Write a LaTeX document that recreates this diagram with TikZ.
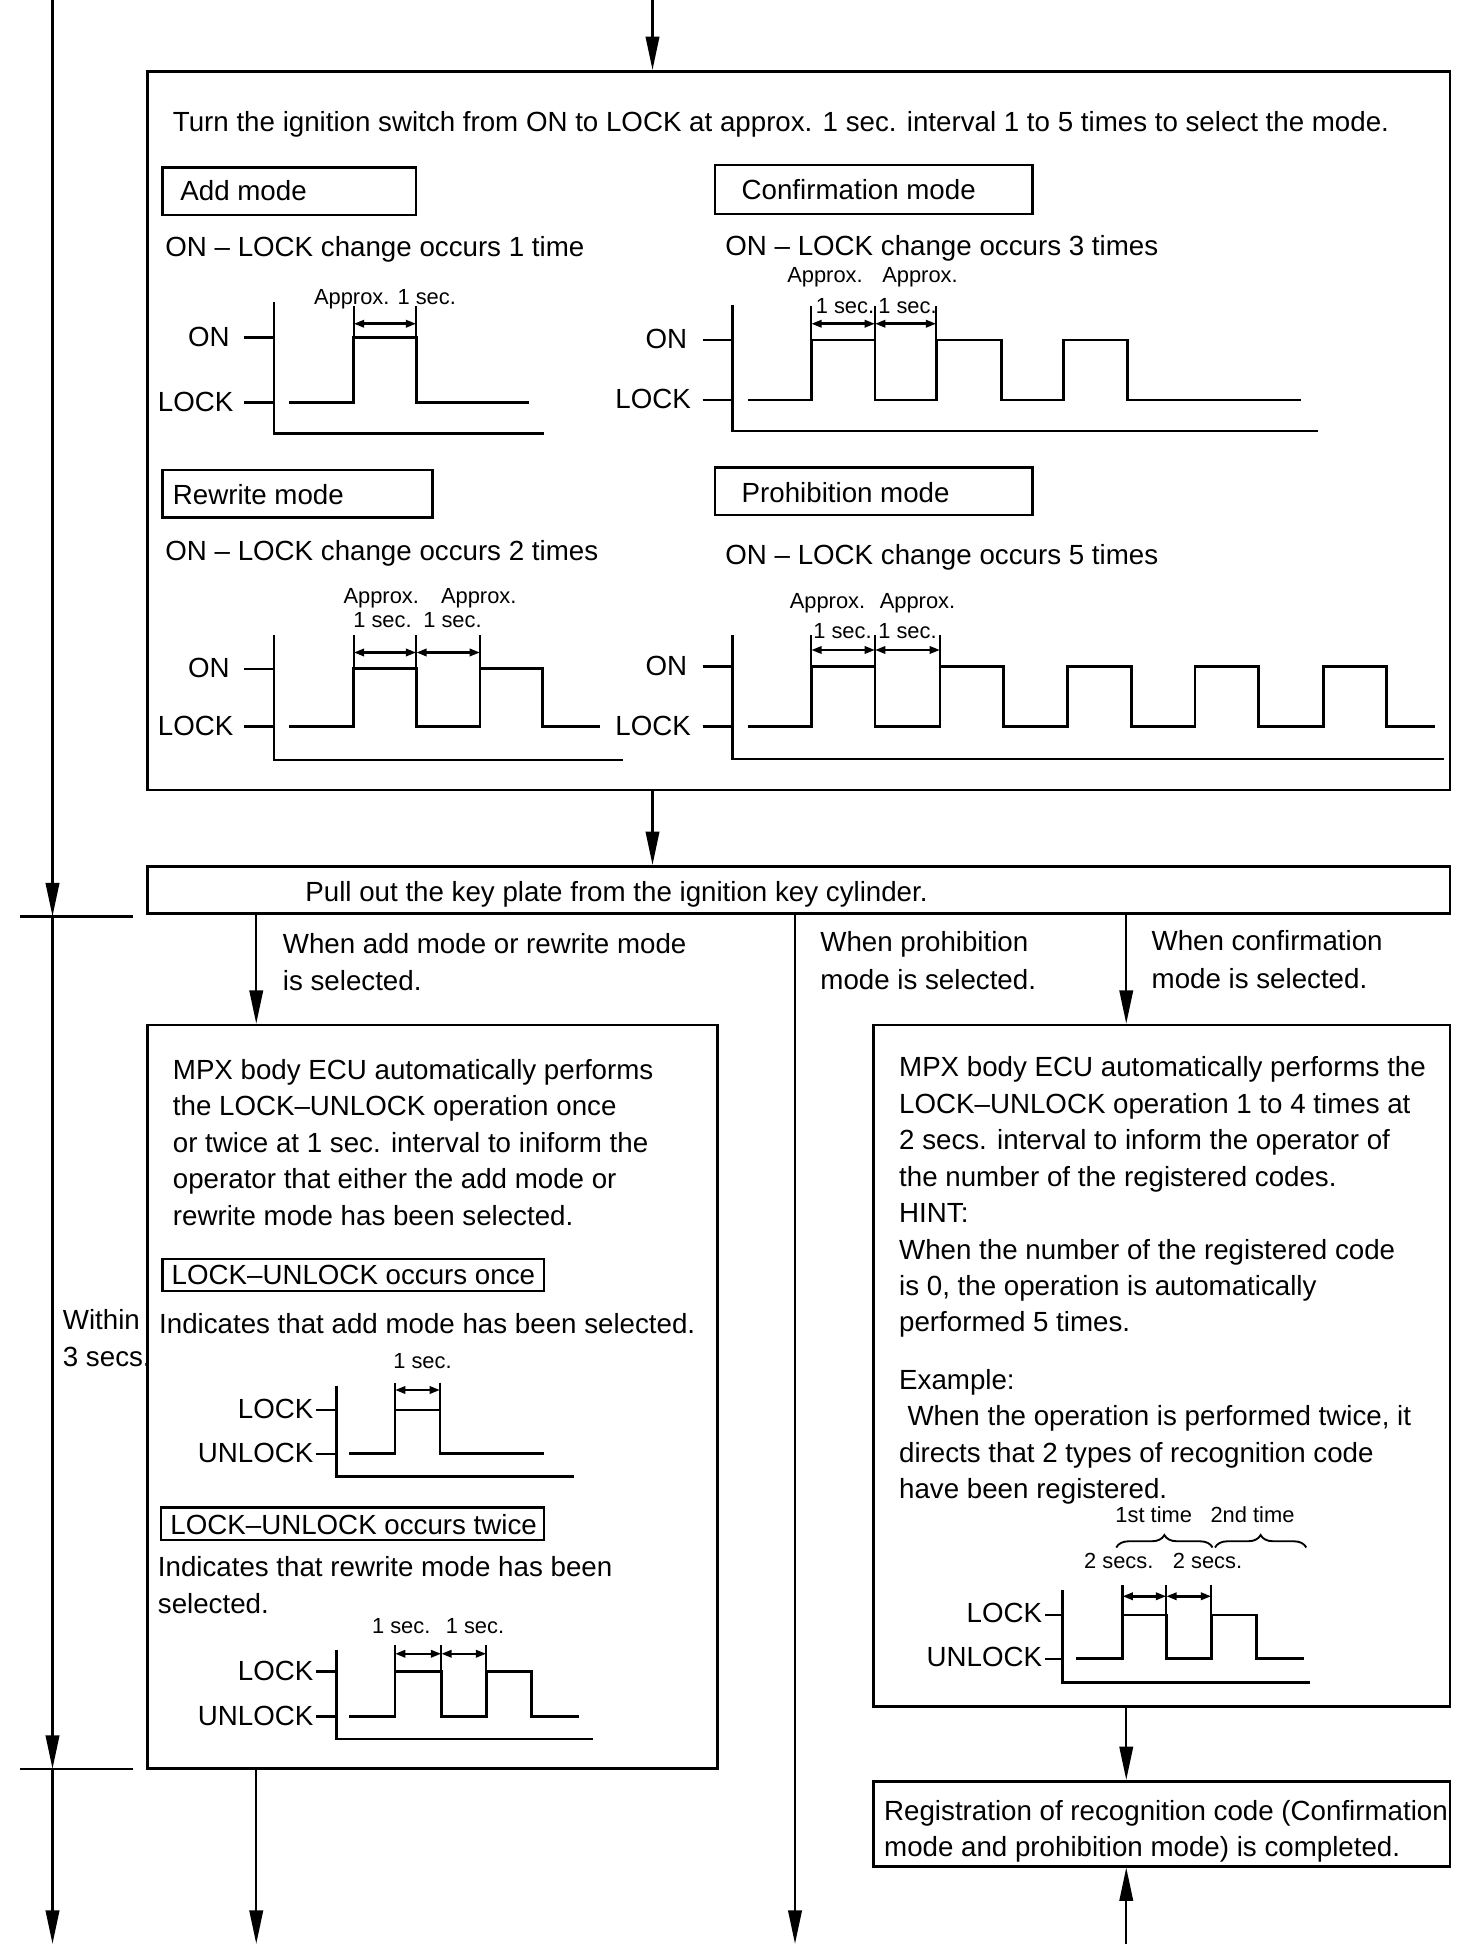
\documentclass[tikz,border=0pt]{standalone}
\usepackage{fontspec}
\setmainfont{Liberation Sans}
\usetikzlibrary{arrows.meta,fit,decorations.pathreplacing}
\begin{document}
\begin{tikzpicture}[x=0.6pt,y=-0.6pt,
 box/.style={draw, line width=1.3pt, inner sep=0pt},
 mbox/.style={draw, line width=1.1pt, inner sep=0pt},
 txt/.style={inner sep=0pt, anchor=north west, align=left, font=\fontsize{13.3pt}{17.5pt}\selectfont},
 txtw/.style={txt, font=\fontsize{13.3pt}{18pt}\selectfont},
 smalltxt/.style={inner sep=0pt, anchor=base, font=\fontsize{10.5pt}{12pt}\selectfont},
 lbl/.style={inner sep=0pt, anchor=base east, font=\fontsize{13.3pt}{16pt}\selectfont},
 flow/.style={line width=1pt, -{Triangle[length=16pt,width=6.5pt]}},
 cline/.style={line width=1pt},
 axisln/.style={line width=1.2pt},
 sig/.style={line width=1.4pt},
 mk/.style={line width=1pt},
 dimarr/.style={line width=1.2pt, {Triangle[length=5pt,width=3.5pt]}-{Triangle[length=5pt,width=3.5pt]}},
 brc/.style={line width=0.9pt, decorate, decoration={brace, amplitude=6pt}}
]
\useasboundingbox (0,0) rectangle (1178,1568);

% ---------- top box ----------
\coordinate (top) at (522,0);
\node[box, fit={(118,57) (1160,632)}] (box1) {};
\draw[flow] (top) -- (top |- box1.north);
\node[txt] (t1) at (138,89) {Turn the ignition switch from ON to LOCK at approx. 1 sec. interval 1 to 5 times to select the mode.};

\node[mbox, fit={(130,134) (333,172)}] (addb) {};
\node[txt] (addt) at (144,144) {Add mode};
\node[mbox, fit={(572,132) (826,171)}] (confb) {};
\node[txt] (conft) at (593,143) {Confirmation mode};
\node[txt] (addc) at (132,189) {ON – LOCK change occurs 1 time};
\node[txt] (confc) at (580,188) {ON – LOCK change occurs 3 times};

% chart A (add)
\draw[axisln] (219,242) -- (219,347) -- (435,347);
\draw[axisln] (195,270) -- (219,270);
\draw[axisln] (195,322) -- (219,322);
\node[lbl] (aon) at (184,277) {ON};
\node[lbl] (alk) at (187,329) {LOCK};
\draw[sig] (231,322) -- (283,322) -- (283,270) -- (333,270) -- (333,322) -- (423,322);
\draw[mk] (283,245) -- (283,270);
\draw[mk] (333,245) -- (333,270);
\draw[dimarr] (283,259) -- (333,259);
\node[smalltxt] (aap) at (308,244) {Approx. 1 sec.};

% chart B (confirmation)
\draw[axisln] (586,244) -- (586,345) -- (1054,345);
\draw[axisln] (562,272) -- (586,272);
\draw[axisln] (562,320) -- (586,320);
\node[lbl] (bon) at (550,279) {ON};
\node[lbl] (blk) at (553,327) {LOCK};
\draw[sig] (598,320) -- (649,320) -- (649,272) -- (700,272) -- (700,320) -- (749,320) -- (749,272) -- (801,272) -- (801,320) -- (851,320) -- (851,272) -- (902,272) -- (902,320) -- (1041,320);
\draw[mk] (649,245) -- (649,272);
\draw[mk] (700,245) -- (700,272);
\draw[mk] (749,245) -- (749,272);
\draw[dimarr] (649,259) -- (700,259);
\draw[dimarr] (700,259) -- (749,259);
\node[smalltxt] (bap1) at (660,226) {Approx.};
\node[smalltxt] (bap2) at (736,226) {Approx.};
\node[smalltxt] (bs1) at (676,251) {1 sec.};
\node[smalltxt] (bs2) at (726,251) {1 sec.};

\node[mbox, fit={(130,376) (346,414)}] (rewb) {};
\node[txt] (rewt) at (138,387) {Rewrite mode};
\node[mbox, fit={(572,374) (826,412)}] (prob) {};
\node[txt] (prot) at (593,386) {Prohibition mode};
\node[txt] (rewc) at (132,432) {ON – LOCK change occurs 2 times};
\node[txt] (proc) at (580,435) {ON – LOCK change occurs 5 times};

% chart C (rewrite)
\draw[axisln] (219,508) -- (219,608) -- (498,608);
\draw[axisln] (195,535) -- (219,535);
\draw[axisln] (195,581) -- (219,581);
\node[lbl] (con) at (184,542) {ON};
\node[lbl] (clk) at (187,588) {LOCK};
\draw[sig] (231,581) -- (283,581) -- (283,535) -- (333,535) -- (333,581) -- (384,581) -- (384,535) -- (434,535) -- (434,581) -- (480,581);
\draw[mk] (283,508) -- (283,535);
\draw[mk] (333,508) -- (333,535);
\draw[mk] (384,508) -- (384,535);
\draw[dimarr] (283,522) -- (333,522);
\draw[dimarr] (333,522) -- (384,522);
\node[smalltxt] (cap1) at (305,483) {Approx.};
\node[smalltxt] (cap2) at (383,483) {Approx.};
\node[smalltxt] (cs1) at (306,502) {1 sec.};
\node[smalltxt] (cs2) at (362,502) {1 sec.};

% chart D (prohibition)
\draw[axisln] (586,508) -- (586,607) -- (1155,607);
\draw[axisln] (562,533) -- (586,533);
\draw[axisln] (562,581) -- (586,581);
\node[lbl] (don) at (550,540) {ON};
\node[lbl] (dlk) at (553,588) {LOCK};
\draw[sig] (598,581) -- (649,581) -- (649,533) -- (700,533) -- (700,581) -- (752,581) -- (752,533) -- (803,533) -- (803,581) -- (854,581) -- (854,533) -- (905,533) -- (905,581) -- (956,581) -- (956,533) -- (1007,533) -- (1007,581) -- (1059,581) -- (1059,533) -- (1109,533) -- (1109,581) -- (1148,581);
\draw[mk] (649,508) -- (649,533);
\draw[mk] (700,508) -- (700,533);
\draw[mk] (752,508) -- (752,533);
\draw[dimarr] (649,520) -- (700,520);
\draw[dimarr] (700,520) -- (752,520);
\node[smalltxt] (dap1) at (662,487) {Approx.};
\node[smalltxt] (dap2) at (734,487) {Approx.};
\node[smalltxt] (ds1) at (674,511) {1 sec.};
\node[smalltxt] (ds2) at (726,511) {1 sec.};

% ---------- key plate ----------
\node[box, fit={(118,693) (1160,731)}] (key) {};
\draw[flow] (box1.south -| top) -- (key.north -| top);
\node[txt] (keyt) at (244,705) {Pull out the key plate from the ignition key cylinder.};

% left time line
\coordinate (L0) at (42,0);
\coordinate (L1) at (42,733);
\coordinate (L2) at (42,1415);
\coordinate (L3) at (42,1555);
\draw[flow] (L0) -- (L1);
\draw[flow] (L1) -- (L2);
\draw[flow] (L2) -- (L3);
\coordinate (T1a) at (16,733); \coordinate (T1b) at (106,733);
\coordinate (T2a) at (16,1415); \coordinate (T2b) at (106,1415);
\draw[axisln] (T1a) -- (T1b);
\draw[axisln] (T2a) -- (T2b);
\node[txtw] (within) at (50,1047) {Within\\3 secs.};

% branch labels
\node[txtw] (wadd) at (226,746) {When add mode or rewrite mode\\is selected.};
\node[txtw] (wpro) at (656,745) {When prohibition\\mode is selected.};
\node[txtw] (wcon) at (921,744) {When confirmation\\mode is selected.};

% ---------- left box ----------
\node[box, fit={(118,820) (574,1415)}] (lbox) {};
\coordinate (xa) at (205,0);
\draw[flow] (key.south -| xa) -- (lbox.north -| xa);
\node[txt] (ltext) at (138,847) {MPX body ECU automatically performs\\the LOCK–UNLOCK operation once\\or twice at 1 sec. interval to iniform the\\operator that either the add mode or\\rewrite mode has been selected.};
\node[mbox, fit={(130,1007) (435,1033)}] (onceb) {};
\node[txt] (oncet) at (137,1012) {LOCK–UNLOCK occurs once};
\node[txt] (oncei) at (127,1050) {Indicates that add mode has been selected.};

% chart E
\draw[axisln] (269,1109) -- (269,1181) -- (459,1181);
\draw[axisln] (253,1128) -- (269,1128);
\draw[axisln] (253,1163) -- (269,1163);
\node[lbl] (elk) at (251,1135) {LOCK};
\node[lbl] (eul) at (251,1170) {UNLOCK};
\draw[sig] (279,1163) -- (316,1163) -- (316,1128) -- (352,1128) -- (352,1163) -- (435,1163);
\draw[mk] (316,1106) -- (316,1128);
\draw[mk] (352,1106) -- (352,1128);
\draw[dimarr] (316,1112) -- (352,1112);
\node[smalltxt] (es) at (338,1095) {1 sec.};

\node[mbox, fit={(129,1206) (435,1232)}] (twiceb) {};
\node[txt] (twicet) at (136,1211) {LOCK–UNLOCK occurs twice};
\node[txt] (twicei) at (126,1245) {Indicates that rewrite mode has been\\selected.};

% chart F
\draw[axisln] (269,1320) -- (269,1391) -- (474,1391);
\draw[axisln] (253,1337) -- (269,1337);
\draw[axisln] (253,1373) -- (269,1373);
\node[lbl] (flk) at (251,1344) {LOCK};
\node[lbl] (ful) at (251,1380) {UNLOCK};
\draw[sig] (279,1373) -- (316,1373) -- (316,1337) -- (353,1337) -- (353,1373) -- (389,1373) -- (389,1337) -- (425,1337) -- (425,1373) -- (463,1373);
\draw[mk] (316,1316) -- (316,1337);
\draw[mk] (353,1316) -- (353,1337);
\draw[mk] (389,1316) -- (389,1337);
\draw[dimarr] (316,1323) -- (353,1323);
\draw[dimarr] (353,1323) -- (389,1323);
\node[smalltxt] (fs1) at (321,1307) {1 sec.};
\node[smalltxt] (fs2) at (380,1307) {1 sec.};

\coordinate (ea) at (205,1555);
\draw[flow] (lbox.south -| ea) -- (ea);

% middle line
\coordinate (xm) at (636,1555);
\draw[flow] (key.south -| xm) -- (xm);

% ---------- right box ----------
\node[box, fit={(699,820) (1160,1365)}] (rbox) {};
\coordinate (xr) at (901,0);
\draw[flow] (key.south -| xr) -- (rbox.north -| xr);
\node[txt] (rtext) at (719,845) {MPX body ECU automatically performs the\\LOCK–UNLOCK operation 1 to 4 times at\\2 secs. interval to inform the operator of\\the number of the registered codes.\\HINT:\\When the number of the registered code\\is 0, the operation is automatically\\performed 5 times.};
\node[txt] (rex) at (719,1095) {Example:\\\hspace*{4pt}When the operation is performed twice, it\\directs that 2 types of recognition code\\have been registered.};

% chart G
\node[smalltxt] (g1) at (923,1218) {1st time};
\node[smalltxt] (g2) at (1002,1218) {2nd time};
\draw[brc] (893,1238) -- (970,1238);
\draw[brc] (972,1238) -- (1045,1238);
\node[smalltxt] (gs1) at (895,1255) {2 secs.};
\node[smalltxt] (gs2) at (966,1255) {2 secs.};
\draw[axisln] (850,1272) -- (850,1346) -- (1048,1346);
\draw[axisln] (836,1292) -- (850,1292);
\draw[axisln] (836,1327) -- (850,1327);
\node[lbl] (glk) at (834,1298) {LOCK};
\node[lbl] (gul) at (834,1333) {UNLOCK};
\draw[sig] (861,1327) -- (898,1327) -- (898,1292) -- (933,1292) -- (933,1327) -- (969,1327) -- (969,1292) -- (1005,1292) -- (1005,1327) -- (1043,1327);
\draw[mk] (898,1268) -- (898,1292);
\draw[mk] (933,1268) -- (933,1292);
\draw[mk] (969,1268) -- (969,1292);
\draw[dimarr] (898,1277) -- (933,1277);
\draw[dimarr] (933,1277) -- (969,1277);

% registration box
\node[box, fit={(699,1425) (1160,1493)}] (reg) {};
\draw[flow] (rbox.south -| xr) -- (reg.north -| xr);
\node[txt] (regt) at (707,1440) {Registration of recognition code (Confirmation\\mode and prohibition mode) is completed.};
\coordinate (rb) at (901,1555);
\draw[flow] (rb) -- (reg.south -| rb);

\end{tikzpicture}
\end{document}
